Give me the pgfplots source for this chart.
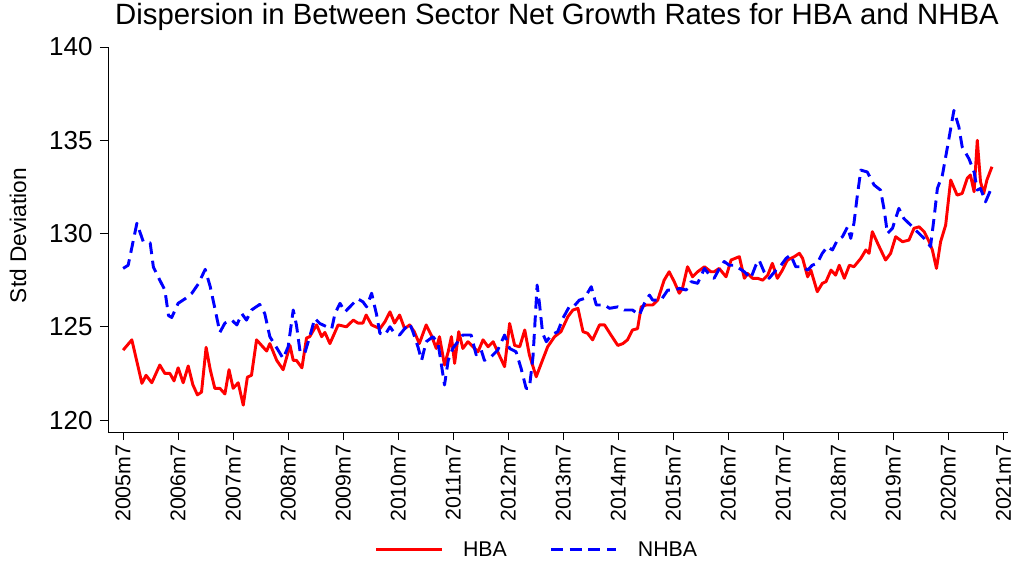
\documentclass[border=0pt]{standalone}
\usepackage{fontspec}
\setmainfont{Liberation Sans}
\usepackage{pgfplots}
\pgfplotsset{compat=1.18}

\definecolor{hbared}{RGB}{255,0,0}
\definecolor{nhbablue}{RGB}{0,0,255}

\begin{document}
\begin{tikzpicture}[x=1pt,y=1pt]
% page = 1018 x 565 px, 0.75pt per px, axis corner at (108,432) px
\useasboundingbox (-81,-99.75) rectangle (682.5,324);
\begin{axis}[
    at={(0,0)}, anchor=south west,
    scale only axis,
    width=675pt, height=288.75pt,
    xmin=-3.3, xmax=193,
    ymin=119.36, ymax=140,
    axis x line*=bottom,
    axis y line*=left,
    axis line style={black, line width=0.7pt},
    tick align=outside,
    major tick length=6pt,
    tick style={black, line width=0.7pt},
    xtick={0,12,...,192},
    xticklabels={2005m7,2006m7,2007m7,2008m7,2009m7,2010m7,2011m7,2012m7,
                 2013m7,2014m7,2015m7,2016m7,2017m7,2018m7,2019m7,2020m7,2021m7},
    xticklabel style={rotate=90, anchor=east, font=\fontsize{16}{16}\selectfont},
    ytick={120,125,...,140},
    yticklabel style={font=\fontsize{19.5}{19.5}\selectfont, xshift=-2pt},
    /pgf/number format/assume math mode=true,
    ylabel={Std Deviation},
    ylabel style={at={(axis description cs:-0.1,0.51)}, anchor=center,
                  font=\fontsize{17}{17}\selectfont},
    legend columns=2,
    legend style={at={(0.477,-0.306)}, anchor=center, draw=none,
                  font=\fontsize{16}{16}\selectfont,
                  /tikz/every odd column/.append style={column sep=13pt},
                  /tikz/every even column/.append style={column sep=30pt}},
    legend image code/.code={\draw[#1] (0pt,0pt) -- (49pt,0pt);},
    clip=false,
]
\addplot[hbared, line width=2.2pt, line join=round] coordinates {
(0,123.75) (1.9,124.3) (4.1,121.97) (5,122.4) (6.25,122.0) (8,122.95)
(9.1,122.5) (10.2,122.5) (11.1,122.1) (12,122.8) (13.1,122.0) (14.2,122.9)
(15.2,121.9) (16.2,121.35) (17.1,121.5) (18.1,123.9) (19,122.7) (20,121.7)
(21.1,121.7) (22.2,121.4) (23.1,122.7) (24,121.7) (25.1,122.0) (26.2,120.8)
(27.1,122.3) (28,122.4) (29.1,124.3) (31.3,123.7) (32,124.1) (33.5,123.2)
(34.9,122.7) (36.4,124.0) (37.1,123.2) (37.8,123.2) (39,122.8) (40,124.4)
(40.7,124.47) (42.2,125.1) (43.3,124.47) (44,124.7) (45.1,124.1) (46.9,125.1)
(48.7,125.0) (50.2,125.36) (51.2,125.2) (52.3,125.2) (53,125.63) (54.2,125.1)
(56,124.9) (57.1,125.27) (58.2,125.8) (59.2,125.2) (60.3,125.63) (61.4,124.9)
(62.5,125.1) (63.5,124.74) (64.6,124.1) (66.1,125.1) (67.2,124.56) (68.3,123.84)
(69,124.47) (70.1,122.95) (70.9,123.66) (71.6,124.47) (72.3,123.04) (73.2,124.74)
(74.1,123.84) (75.2,124.2) (76.3,123.93) (77.4,123.66) (78.5,124.3) (79.6,123.93)
(80.7,124.2) (81.7,123.66) (83.2,122.86) (84.3,125.18) (85.4,124.0) (86.5,123.93)
(87.6,124.83) (88.6,123.5) (90.1,122.32) (91.2,123.04) (92.6,123.93) (94.1,124.47)
(95.5,124.74) (97,125.54) (98.1,125.9) (99.2,125.99) (100.3,124.74) (101.3,124.65)
(102.4,124.3) (103.9,125.1) (105,125.1) (106.4,124.56) (107.9,124.0) (109,124.1)
(110,124.3) (111.1,124.83) (112.2,124.9) (113,126.07) (114.1,126.17) (115.5,126.17)
(116.6,126.43) (118,127.5) (119.1,127.95) (120.2,127.42) (121.3,126.8) (122,127.06)
(123.1,128.22) (124.2,127.68) (125.3,127.95) (126.8,128.22) (128.2,127.95) (128.9,127.95)
(130,128.13) (131.5,127.68) (132.6,128.58) (134.4,128.76) (135.5,127.6) (136.2,127.86)
(137.3,127.6) (138.4,127.6) (139.5,127.5) (140.6,127.77) (141.6,128.4) (142.7,127.6)
(143.8,128.04) (144.9,128.58) (146.4,128.76) (147.5,128.94) (148.2,128.67) (149.3,127.68)
(150,128.04) (151.4,126.88) (152.5,127.33) (153.3,127.42) (154.4,128.04) (155.4,127.77)
(156.2,128.3) (157.3,127.6) (158.4,128.3) (159.4,128.22) (160.9,128.67) (162,129.12)
(162.7,128.94) (163.4,130.1) (164.9,129.3) (166.3,128.58) (167.4,128.94) (168.5,129.83)
(170,129.56) (171.4,129.65) (172.5,130.28) (173.6,130.36) (174.7,130.1) (175.8,129.56)
(176.5,129.12) (177.4,128.13) (178.3,129.56) (179.4,130.45) (180.5,132.87) (181.9,132.06)
(183,132.15) (184.1,132.96) (184.8,133.14) (185.6,132.24) (186.3,135.0) (187,132.78)
(187.7,132.15) (188.4,132.87) (189.5,133.58)
};
\addlegendentry{HBA}
\addplot[nhbablue, line width=2.2pt, line join=round, dash pattern=on 9pt off 5pt] coordinates {
(0,128.13) (1.1,128.3) (3,130.55) (4.4,129.56) (5.9,129.5) (6.6,128.2)
(8,127.5) (9.1,126.97) (9.9,125.6) (10.6,125.5) (12,126.26) (13.5,126.5)
(15,126.8) (16.4,127.3) (17.9,128.08) (19,127.15) (20,126.0) (21.1,124.7)
(22.2,125.2) (23.7,125.36) (24.8,125.1) (25.9,125.7) (26.9,125.36) (28,125.9)
(29.8,126.2) (30.9,125.7) (32,124.47) (33.8,123.75) (34.9,123.3) (36,123.93)
(37.1,125.9) (37.8,125.1) (38.6,123.66) (39.6,123.57) (40.7,124.47) (41.8,125.45)
(42.9,125.18) (44.4,125.0) (45.5,124.9) (46.2,125.7) (47.3,126.26) (48.4,125.8)
(50.2,126.26) (51.2,126.5) (52.3,126.34) (53.1,126.07) (54.2,126.8) (55.3,125.63)
(56,124.65) (57.1,124.56) (58.2,125.0) (59.2,124.65) (60.3,124.56) (61.4,124.9)
(62.5,125.18) (63.2,124.74) (64.3,123.93) (65.1,123.2) (66.1,124.2) (67.6,124.47)
(68.7,124.1) (70.1,121.88) (70.9,123.2) (71.9,123.84) (73,124.2) (74.1,124.56)
(75.9,124.56) (77,123.5) (78.1,123.75) (78.8,123.2) (80.3,123.4) (81.7,123.75)
(83.2,124.56) (84.3,123.84) (85.7,123.66) (86.8,122.77) (87.9,121.7) (88.6,121.7)
(89.4,123.4) (90.3,127.24) (90.8,126.26) (91.5,124.65) (92.3,124.2) (93.4,124.56)
(94.8,124.74) (95.9,125.45) (97.4,126.12) (98.4,126.12) (99.5,126.43) (100.6,126.52)
(102.1,127.15) (102.8,126.52) (103.2,126.17) (105,126.17) (106.1,125.99) (107.9,126.07)
(109.3,125.9) (111.1,125.9) (112.6,125.63) (113.7,126.26) (114.8,126.7) (115.5,126.43)
(117.3,126.43) (118.8,126.97) (120.2,126.97) (121.3,127.06) (122.8,126.97) (123.9,127.42)
(125.3,127.33) (126.8,128.13) (128.2,127.68) (128.9,127.6) (130,128.1) (131.1,128.5)
(132.2,128.3) (133.3,128.3) (134.4,128.13) (135.5,127.95) (136.9,127.6) (138,128.3)
(138.7,128.58) (139.8,127.95) (140.9,127.6) (142.4,128.04) (143.5,128.3) (144.6,128.67)
(145.6,128.85) (146.7,128.22) (148.2,128.22) (149.3,128.04) (150.3,128.3) (151.4,128.4)
(152.5,128.94) (153.6,129.3) (154.7,129.12) (155.8,129.65) (156.9,129.83) (158,130.36)
(158.7,129.74) (159.4,130.55) (160.1,131.97) (160.9,133.4) (162.3,133.3) (163.8,132.6)
(165.2,132.33) (166,131.26) (166.7,130.0) (167.8,130.28) (169.2,131.35) (170.3,130.8)
(171.8,130.45) (173.2,130.1) (174.7,129.74) (176.1,129.3) (176.9,130.9) (177.6,132.42)
(178.7,133.14) (179.8,134.65) (181.2,136.6) (182.3,135.7) (183,134.65) (184.5,134.0)
(185.6,133.3) (186.3,132.33) (187,132.42) (188.1,131.7) (189.2,132.33) (189.9,132.3)
};
\addlegendentry{NHBA}
\end{axis}
\node[font=\fontsize{22}{22}\selectfont] at (336.75,311.5) {Dispersion in Between Sector Net Growth Rates for HBA and NHBA};
\end{tikzpicture}
\end{document}
